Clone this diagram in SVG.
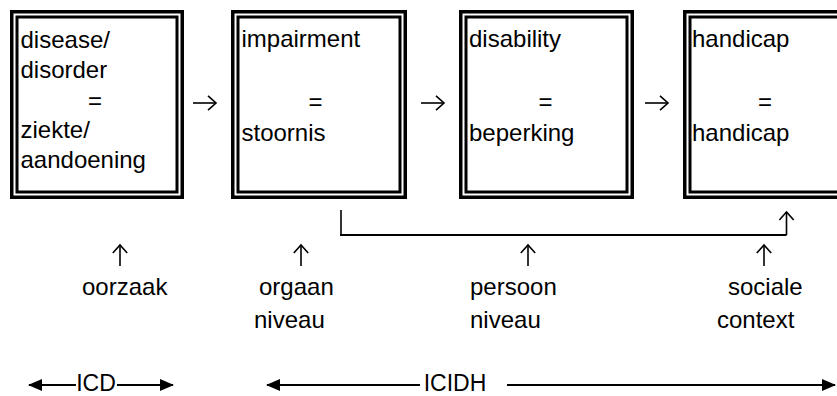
<svg xmlns="http://www.w3.org/2000/svg" width="837" height="396" viewBox="0 0 837 396">
<style>
.t{font-family:"Liberation Sans",Arial,sans-serif;font-size:24px;fill:#000}
.b{font-size:23px}
.m{text-anchor:middle}
.outer{fill:none;stroke:#000;stroke-width:3.5}
.inner{fill:none;stroke:#000;stroke-width:3}
.ln{fill:none;stroke:#000;stroke-width:1.6}
.thick{fill:none;stroke:#000;stroke-width:2}
</style>
<defs>
<marker id="open" viewBox="0 0 16 16" markerWidth="16" markerHeight="16" refX="12.5" refY="8" markerUnits="userSpaceOnUse" orient="auto">
<path d="M4.5,0.8 L12.5,8 L4.5,15.2" fill="none" stroke="#000" stroke-width="1.6"/>
</marker>
<marker id="solid" viewBox="0 0 14 12" markerWidth="14" markerHeight="12" refX="13" refY="6" markerUnits="userSpaceOnUse" orient="auto">
<path d="M0,0 L14,6 L0,12 z" fill="#000"/>
</marker>
</defs>
<rect width="837" height="396" fill="#fff"/>

<g id="node-disease">
<rect class="outer" x="11.75" y="11.75" width="170.5" height="185.5"/>
<rect class="inner" x="17" y="17" width="160" height="175"/>
<text class="t" x="20.5" y="48">disease/</text>
<text class="t" x="20.5" y="78">disorder</text>
<text class="t m" x="95" y="109">=</text>
<text class="t" x="20.5" y="138">ziekte/</text>
<text class="t" x="20.5" y="168">aandoening</text>
</g>

<g id="node-impairment">
<rect class="outer" x="232.75" y="11.75" width="172.5" height="185.5"/>
<rect class="inner" x="238" y="17" width="162" height="175"/>
<text class="t" x="241.5" y="47">impairment</text>
<text class="t m" x="315.5" y="110">=</text>
<text class="t" x="241.5" y="141">stoornis</text>
</g>

<g id="node-disability">
<rect class="outer" x="460.75" y="11.75" width="171.5" height="185.5"/>
<rect class="inner" x="466" y="17" width="161" height="175"/>
<text class="t" x="469" y="47">disability</text>
<text class="t m" x="545.5" y="110">=</text>
<text class="t" x="469" y="141">beperking</text>
</g>

<g id="node-handicap">
<rect class="outer" x="684.75" y="11.75" width="171.5" height="185.5"/>
<rect class="inner" x="690" y="17" width="161" height="175"/>
<text class="t" x="692" y="47">handicap</text>
<text class="t m" x="765" y="110">=</text>
<text class="t" x="692" y="141">handicap</text>
</g>

<g id="labels">
<text class="t" x="82" y="295">oorzaak</text>
<text class="t" x="259" y="295">orgaan</text>
<text class="t" x="254" y="328">niveau</text>
<text class="t" x="470" y="295">persoon</text>
<text class="t" x="470" y="328">niveau</text>
<text class="t" x="728" y="295">sociale</text>
<text class="t" x="717" y="328">context</text>
<text class="t b m" x="96" y="391">ICD</text>
<text class="t b m" x="455" y="391">ICIDH</text>
</g>

<g id="connectors">
<path class="ln" d="M193,103 H216" marker-end="url(#open)"/>
<path class="ln" d="M421,103 H444" marker-end="url(#open)"/>
<path class="ln" d="M645,103 H668" marker-end="url(#open)"/>
<path class="ln" d="M120,266 V245" marker-end="url(#open)"/>
<path class="ln" d="M301,266 V245" marker-end="url(#open)"/>
<path class="ln" d="M528,266 V245" marker-end="url(#open)"/>
<path class="ln" d="M764,266 V245" marker-end="url(#open)"/>
<path class="ln" d="M341,210 V235" />
<path class="thick" d="M340,235 H786.5"/>
<path class="ln" d="M786.5,235 V212" marker-end="url(#open)"/>
<path class="thick" d="M76,385 H29" marker-end="url(#solid)"/>
<path class="thick" d="M117,385 H173" marker-end="url(#solid)"/>
<path class="thick" d="M420,385 H267" marker-end="url(#solid)"/>
<path class="thick" d="M507,385 H835" marker-end="url(#solid)"/>
</g>
</svg>
